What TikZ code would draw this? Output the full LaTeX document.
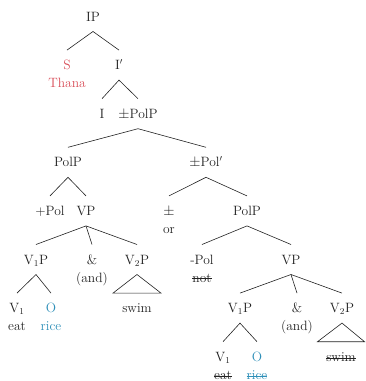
\documentclass[tikz,border=0pt]{standalone}
\definecolor{tred}{HTML}{D9505A}
\definecolor{tblue}{HTML}{2E8FB8}
\definecolor{tink}{HTML}{222222}
\begin{document}
\begin{tikzpicture}[x=1pt,y=-1pt,
  every node/.style={font=\fontsize{13.5}{16}\selectfont, text=tink},
  lab/.style={anchor=base, inner xsep=0pt, inner ysep=0pt, text height=9pt, text depth=0pt, outer xsep=0pt, outer ysep=10.5pt},
  gloss/.style={anchor=base, inner sep=0pt},
  br/.style={draw=tink, line width=0.6pt},
  strike/.style={line width=0.6pt},
  redt/.style={text=tred},
  bluet/.style={text=tblue}]
\useasboundingbox (0,0) rectangle (366,381);
% level baselines: 21, 69.6, 118.2, 166.8, 215.4, 264, 312.6, 361.2
\node[lab] (IP) at (93,21) {IP};
\node[lab,redt] (S) at (67,69.6) {S};
\node[gloss,redt] (Thana) at (67,87.6) {Thana};
\node[lab] (Ibar) at (119,69.6) {I$'$};
\node[lab] (I) at (102,118.2) {I};
\node[lab] (pmPolP) at (138,118.2) {$\pm$PolP};
\node[lab] (PolPa) at (68,166.8) {PolP};
\node[lab] (pmPolbar) at (206,166.8) {$\pm$Pol$'$};
\node[lab] (pPol) at (50,215.4) {+Pol};
\node[lab] (VPa) at (86,215.4) {VP};
\node[lab] (pm) at (169,215.4) {$\pm$};
\node[gloss] (or) at (169,233.4) {or};
\node[lab] (PolPb) at (247,215.4) {PolP};
\node[lab] (VoPa) at (36,264) {V$_1$P};
\node[lab] (ampa) at (92,264) {\&};
\node[gloss] (anda) at (92,282) {(and)};
\node[lab] (VtPa) at (137,264) {V$_2$P};
\node[lab] (mPol) at (202,264) {-Pol};
\node[gloss] (notn) at (202,282) {not};
\node[lab] (VPb) at (291,264) {VP};
\node[lab] (Voa) at (17,312.6) {V$_1$};
\node[gloss] (eata) at (17,330.6) {eat};
\node[lab,bluet] (Oa) at (51,312.6) {O};
\node[gloss,bluet] (ricea) at (51,330.6) {rice};
\node[lab] (swima) at (137,312.6) {swim};
\node[lab] (VoPb) at (240,312.6) {V$_1$P};
\node[lab] (ampb) at (297,312.6) {\&};
\node[gloss] (andb) at (297,330.6) {(and)};
\node[lab] (VtPb) at (342,312.6) {V$_2$P};
\node[lab] (Vob) at (223,361.2) {V$_1$};
\node[gloss] (eatb) at (223,379.2) {eat};
\node[lab,bluet] (Ob) at (257,361.2) {O};
\node[gloss,bluet] (riceb) at (257,379.2) {rice};
\node[lab] (swimb) at (341,361.2) {swim};
% strike-throughs
\draw[strike,tink] ([yshift=3.3pt]notn.base west) -- ([yshift=3.3pt]notn.base east);
\draw[strike,tink] ([yshift=3.3pt]eatb.base west) -- ([yshift=3.3pt]eatb.base east);
\draw[strike,tblue] ([yshift=3.3pt]riceb.base west) -- ([yshift=3.3pt]riceb.base east);
\draw[strike,tink] ([yshift=3.3pt]swimb.base west) -- ([yshift=3.3pt]swimb.base east);
% branches
\draw[br] (S.north) -- (IP.south) -- (Ibar.north);
\draw[br] (I.north) -- (Ibar.south) -- (pmPolP.north);
\draw[br] (PolPa.north) -- (pmPolP.south) -- (pmPolbar.north);
\draw[br] (pPol.north) -- (PolPa.south) -- (VPa.north);
\draw[br] (pm.north) -- (pmPolbar.south) -- (PolPb.north);
\draw[br] (VoPa.north) -- (VPa.south) -- (VtPa.north);
\draw[br] (VPa.south) -- (ampa.north);
\draw[br] (mPol.north) -- (PolPb.south) -- (VPb.north);
\draw[br] (Voa.north) -- (VoPa.south) -- (Oa.north);
\draw[br] (VtPa.south) -- ([xshift=-24pt]swima.north) -- ([xshift=24pt]swima.north) -- cycle;
\draw[br] (VoPb.north) -- (VPb.south) -- (VtPb.north);
\draw[br] (VPb.south) -- (ampb.north);
\draw[br] (Vob.north) -- (VoPb.south) -- (Ob.north);
\draw[br] (VtPb.south) -- ([xshift=-23.5pt]swimb.north) -- ([xshift=23.5pt]swimb.north) -- cycle;
\end{tikzpicture}
\end{document}
